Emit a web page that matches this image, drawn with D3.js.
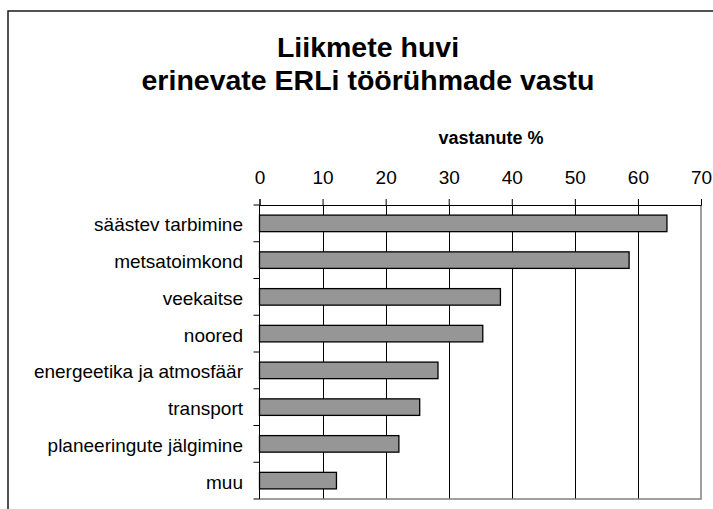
<!DOCTYPE html>
<html>
<head>
<meta charset="utf-8">
<script src="https://cdn.jsdelivr.net/npm/d3@7"></script>
<style>
  body { margin: 0; background: #fff; }
  svg { display: block; font-family: "Liberation Sans", Arial, sans-serif; }
</style>
</head>
<body>
<script>
// data
var categories = ["säästev tarbimine", "metsatoimkond", "veekaitse", "noored",
                  "energeetika ja atmosfäär", "transport", "planeeringute jälgimine", "muu"];
var values = [64.6, 58.6, 38.2, 35.4, 28.3, 25.4, 22.1, 12.2];
var tickValues = [0, 10, 20, 30, 40, 50, 60, 70];
var titleLines = ["Liikmete huvi", "erinevate ERLi töörühmade vastu"];
var axisTitle = "vastanute %";

var width = 713, height = 509;

var svg = d3.select("body").append("svg")
            .attr("width", width)
            .attr("height", height);

// outer frame (runs off the right and bottom edge)
svg.append("rect")
    .attr("x", 8).attr("y", 11)
    .attr("width", 730).attr("height", 520)
    .attr("fill", "#fff")
    .attr("stroke", "#1a1a1a")
    .attr("stroke-width", 1.5);

var x = d3.scaleLinear().domain([0, 70]).range([259.5, 701]);
var y = d3.scaleBand().domain(categories).range([205, 499])
          .paddingInner(0.55).paddingOuter(0.275);

// title
svg.append("text")
    .attr("text-anchor", "middle")
    .attr("font-size", 28.5)
    .attr("font-weight", "bold")
    .selectAll("tspan")
    .data(titleLines)
    .enter().append("tspan")
      .attr("x", 368)
      .attr("y", function(d,i){return 57 + i*33;})
      .text(function(d){return d;});

svg.append("text")
    .attr("x", 491).attr("y", 144)
    .attr("text-anchor", "middle")
    .attr("font-size", 18)
    .attr("font-weight", "bold")
    .text(axisTitle);

// vertical gridlines
svg.selectAll("line.grid")
    .data(tickValues.slice(1, -1))
    .enter().append("line")
      .attr("class", "grid")
      .attr("x1", function(d){return Math.round(x(d)) + 0.5;})
      .attr("x2", function(d){return Math.round(x(d)) + 0.5;})
      .attr("y1", 205).attr("y2", 499)
      .attr("stroke", "#000");

// plot area right / bottom border
svg.append("path")
    .attr("d", "M" + x(70) + ",205V499H" + x(0))
    .attr("fill", "none")
    .attr("stroke", "#808080")
    .attr("stroke-width", 1.5);

// bars
svg.selectAll("rect.bar")
    .data(values)
    .enter().append("rect")
      .attr("class", "bar")
      .attr("x", x(0))
      .attr("y", function(d,i){return y(categories[i]);})
      .attr("width", function(d){return x(d) - x(0);})
      .attr("height", y.bandwidth())
      .attr("fill", "#969696")
      .attr("stroke", "#000")
      .attr("stroke-width", 1.3);

// top value axis
var xAxis = svg.append("g")
    .attr("transform", "translate(0,205)")
    .call(d3.axisTop(x).tickValues(tickValues).tickSize(6).tickPadding(15));
xAxis.select(".domain").attr("stroke", "#000");
xAxis.selectAll("line").attr("stroke", "#000");
xAxis.selectAll("text")
    .attr("font-size", 19)
    .attr("font-family", "'Liberation Sans', Arial, sans-serif")
    .attr("fill", "#000");

// left category axis: ticks at band boundaries
var step = y.step();
var bounds = d3.range(categories.length + 1).map(function(i){return 205 + i*step;});
svg.append("line")
    .attr("x1", x(0)).attr("x2", x(0))
    .attr("y1", 205).attr("y2", 499)
    .attr("stroke", "#000");
svg.selectAll("line.ctick")
    .data(bounds)
    .enter().append("line")
      .attr("class", "ctick")
      .attr("x1", x(0) - 6).attr("x2", x(0))
      .attr("y1", function(d){return d;})
      .attr("y2", function(d){return d;})
      .attr("stroke", "#000");

svg.selectAll("text.cat")
    .data(categories)
    .enter().append("text")
      .attr("class", "cat")
      .attr("x", 243)
      .attr("y", function(d){return y(d) + y.bandwidth()/2;})
      .attr("dy", "0.42em")
      .attr("text-anchor", "end")
      .attr("font-size", 19)
      .text(function(d){return d;});
</script>
</body>
</html>
